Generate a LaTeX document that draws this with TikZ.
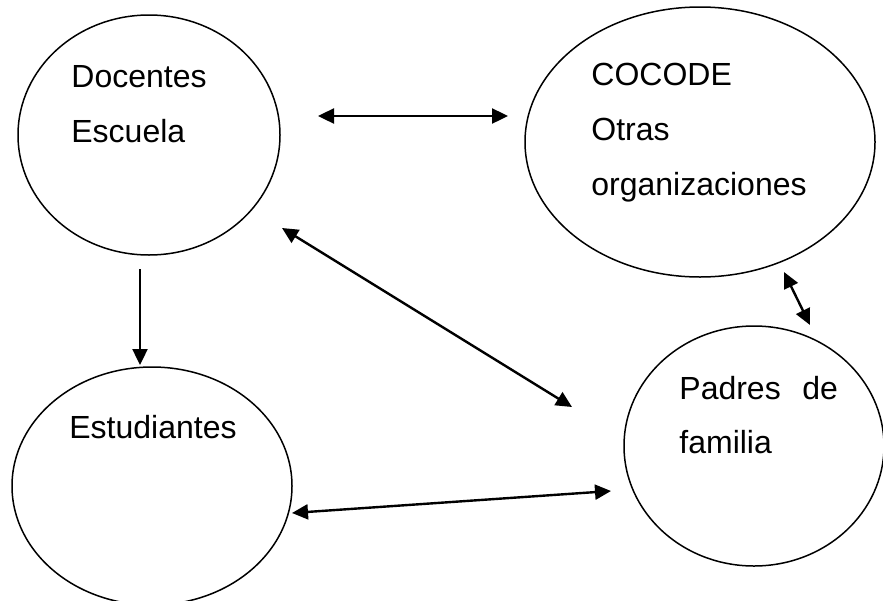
\documentclass[tikz,border=0pt]{standalone}
\usepackage{fontspec}
\setmainfont{Liberation Sans}
\usetikzlibrary{arrows.meta, shapes.geometric}

\tikzset{
  group/.style={draw, ellipse, line width=0.75pt, inner sep=0pt},
  lbl/.style={inner sep=0pt, anchor=base west, font=\fontsize{16}{19}\selectfont},
  link/.style={line width=1.2pt, {Triangle[length=8pt,width=7.5pt]}-{Triangle[length=8pt,width=7.5pt]}},
  onelink/.style={line width=1.2pt, -{Triangle[length=8pt,width=7.5pt]}}
}

\begin{document}
\begin{tikzpicture}[x=0.5pt, y=-0.5pt]
    \useasboundingbox (0,0) rectangle (883,600);

    % --- Groups as ellipses ---
    \node[group, minimum width=131pt, minimum height=120pt] (doc) at (149,135) {};
    \node[group, minimum width=175pt, minimum height=135pt] (coc) at (700,142) {};
    \node[group, minimum width=130pt, minimum height=120pt] (pad) at (754,446) {};
    \node[group, minimum width=140pt, minimum height=119pt] (est) at (152,486) {};

    % --- Labels ---
    \node[lbl] (doc1) at (71,87) {Docentes};
    \node[lbl] (doc2) at (71,142) {Escuela};
    \node[lbl] (coc1) at (591,85) {COCODE};
    \node[lbl] (coc2) at (591,140) {Otras};
    \node[lbl] (coc3) at (591,195) {organizaciones};
    \node[lbl] (pad1) at (679,399) {Padres\hspace{0.4em} de};
    \node[lbl] (pad2) at (679,453) {familia};
    \node[lbl] (est1) at (69,438) {Estudiantes};

    % --- Arrow ends ---
    \coordinate (docR) at (318,116);
    \coordinate (cocL) at (508,116);
    \coordinate (docD) at (282,228);
    \coordinate (padU) at (572,407);
    \coordinate (docB) at (140,269);
    \coordinate (estT) at (140,365);
    \coordinate (estR) at (292,513);
    \coordinate (padL) at (611,491);
    \coordinate (cocB) at (784,272);
    \coordinate (padT) at (810,325);

    % --- Arrows ---
    \draw[link] (docR) -- (cocL);
    \draw[link] (docD) -- (padU);
    \draw[onelink] (docB) -- (estT);
    \draw[link] (estR) -- (padL);
    \draw[link] (cocB) -- (padT);
\end{tikzpicture}
\end{document}
